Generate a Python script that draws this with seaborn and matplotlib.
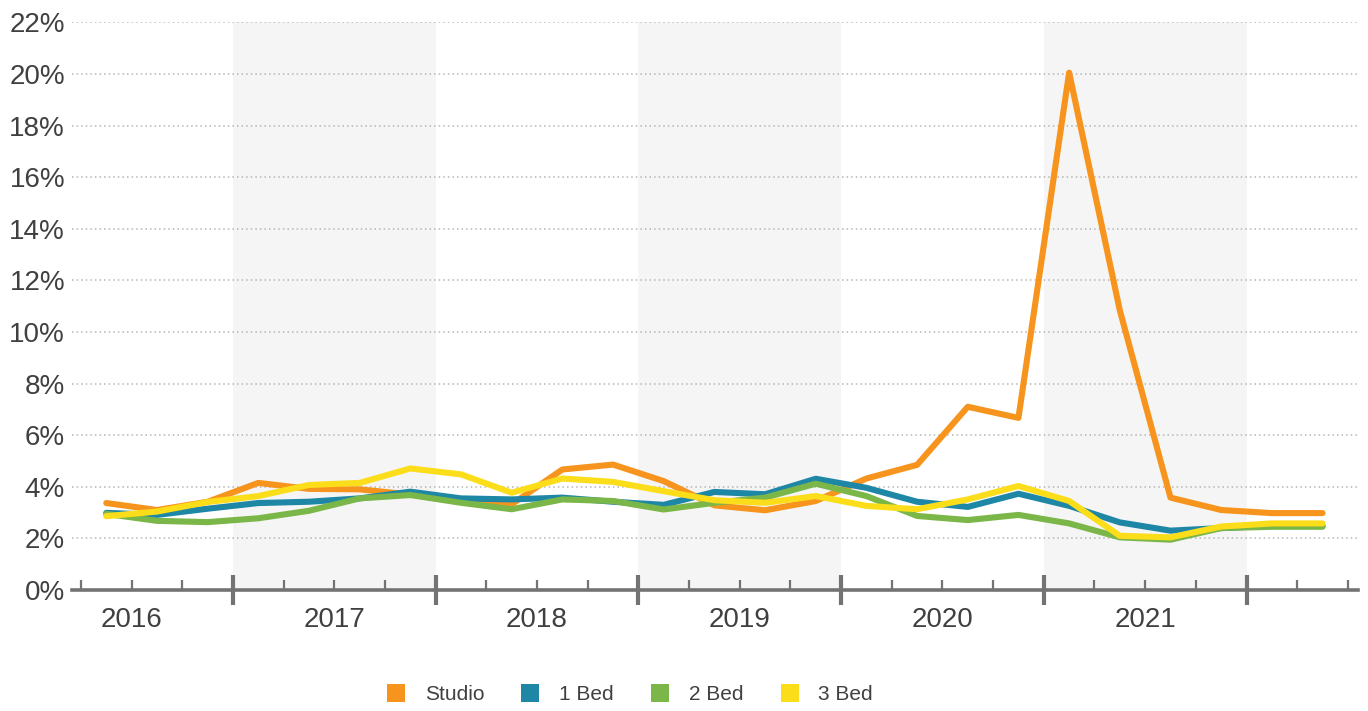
import matplotlib
matplotlib.use('Agg')

import numpy as np
import pandas as pd
import seaborn as sns
import matplotlib.pyplot as plt
from matplotlib.lines import Line2D

# quarterly vacancy rates (%), 2016 Q2 .. 2022 Q2
quarters = ['2016Q2', '2016Q3', '2016Q4',
            '2017Q1', '2017Q2', '2017Q3', '2017Q4',
            '2018Q1', '2018Q2', '2018Q3', '2018Q4',
            '2019Q1', '2019Q2', '2019Q3', '2019Q4',
            '2020Q1', '2020Q2', '2020Q3', '2020Q4',
            '2021Q1', '2021Q2', '2021Q3', '2021Q4',
            '2022Q1', '2022Q2']
studio = [3.37, 3.10, 3.42, 4.15, 3.92, 3.90, 3.70, 3.45, 3.32, 4.67, 4.86, 4.22, 3.28,
          3.09, 3.45, 4.32, 4.85, 7.10, 6.67, 20.05, 10.84, 3.58, 3.10, 2.98, 2.98]
bed1 = [2.99, 2.91, 3.15, 3.37, 3.42, 3.55, 3.81, 3.55, 3.51, 3.58, 3.42, 3.30, 3.80,
        3.71, 4.31, 3.96, 3.42, 3.22, 3.73, 3.26, 2.62, 2.30, 2.40, 2.49, 2.50]
bed2 = [2.95, 2.68, 2.63, 2.78, 3.07, 3.55, 3.68, 3.38, 3.13, 3.51, 3.45, 3.12, 3.38,
        3.58, 4.12, 3.64, 2.87, 2.71, 2.91, 2.58, 2.04, 1.95, 2.40, 2.45, 2.45]
bed3 = [2.86, 3.04, 3.41, 3.64, 4.07, 4.15, 4.71, 4.48, 3.77, 4.32, 4.19, 3.83, 3.48,
        3.38, 3.64, 3.26, 3.13, 3.51, 4.03, 3.45, 2.10, 2.04, 2.46, 2.58, 2.58]

series_names = ['Studio', '1 Bed', '2 Bed', '3 Bed']
colors = ['#F7941D', '#1F87A6', '#7AB648', '#FCDD1A']
year_labels = ['2016', '2017', '2018', '2019', '2020', '2021']
y_ticks = list(range(0, 23, 2))

TEXT = '#404040'
AXIS = '#737373'


def quarter_mid(q):
    # place each quarter at its middle, in fractional years
    return int(q[:4]) + (int(q[-1]) - 0.5) / 4


def build_table():
    x = [quarter_mid(q) for q in quarters]
    frames = []
    for name, vals in zip(series_names, [studio, bed1, bed2, bed3]):
        frames.append(pd.DataFrame({'x': x, 'rate': vals, 'type': name}))
    return pd.concat(frames, ignore_index=True)


def vacancy_plot(df):
    sns.set_style('white')
    plt.rcParams['font.family'] = ['Liberation Sans', 'DejaVu Sans']

    fig = plt.figure(figsize=(13.68, 7.11), dpi=100)
    ax = fig.add_axes([72 / 1368, 121 / 711, (1358 - 72) / 1368, (590 - 22.3) / 711])

    # shaded alternate years
    for y in [2017, 2019, 2021]:
        ax.axvspan(y, y + 1, color='#F5F5F5', zorder=0, lw=0)

    # dotted gridlines
    for v in y_ticks[1:]:
        ax.axhline(v, color='#B5B5B5', lw=1.1, ls=(0, (1, 2)), zorder=1)

    sns.lineplot(data=df, x='x', y='rate', hue='type', hue_order=series_names,
                 palette=colors, lw=4.4, legend=False, ax=ax, zorder=3,
                 solid_capstyle='round')

    ax.set_xlim(2016.206, 2022.55)
    ax.set_ylim(0, 22)
    ax.set_xlabel('')
    ax.set_ylabel('')

    for s in ['top', 'right', 'left']:
        ax.spines[s].set_visible(False)
    ax.spines['bottom'].set_color(AXIS)
    ax.spines['bottom'].set_linewidth(2.6)
    ax.spines['bottom'].set_zorder(4)

    ax.set_yticks(y_ticks)
    ax.set_yticklabels(['{}%'.format(v) for v in y_ticks])
    ax.tick_params(axis='y', length=0, pad=5, labelsize=20, labelcolor=TEXT)

    # year labels at the middle of each year
    ax.xaxis.remove_overlapping_locs = False
    ax.set_xticks([int(y) + 0.5 for y in year_labels])
    ax.set_xticklabels(year_labels)
    ax.tick_params(axis='x', which='major', length=0, pad=12, labelsize=20, labelcolor=TEXT)

    # quarter ticks
    ax.set_xticks(np.arange(2016.25, 2022.51, 0.25), minor=True)
    ax.tick_params(axis='x', which='minor', bottom=True, direction='in', length=7,
                   width=1.6, color=AXIS)

    # year boundary ticks
    sec = ax.secondary_xaxis('bottom')
    sec.set_xticks(range(2017, 2023))
    sec.tick_params(bottom=True, direction='inout', length=21, width=3, color=AXIS,
                    labelbottom=False)
    sec.spines['bottom'].set_visible(False)

    handles = [Line2D([], [], marker='s', ls='none', markersize=12.8, color=c, markeredgewidth=0)
               for c in colors]
    fig.legend(handles, series_names, loc='center', bbox_to_anchor=(630 / 1368, 1 - 695 / 711),
               ncol=4, frameon=False, fontsize=15, labelcolor=TEXT, handlelength=0.85,
               handletextpad=0.95, columnspacing=1.8)

    plt.savefig('out.png', dpi=100)


def main():
    df = build_table()
    vacancy_plot(df)


if __name__ == '__main__':
    main()
